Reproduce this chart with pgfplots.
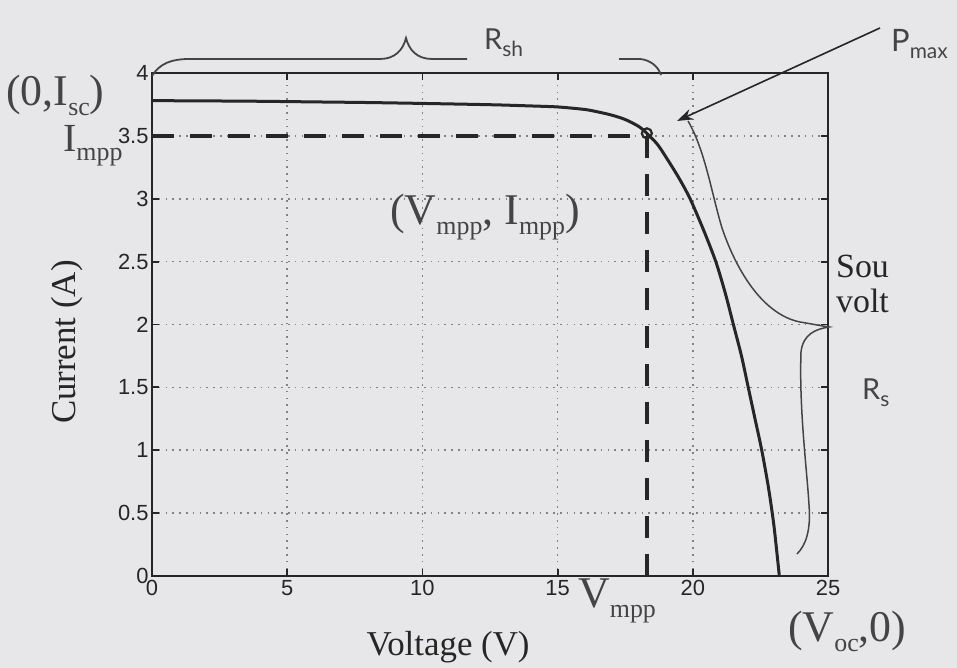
\documentclass[border=0pt]{standalone}
\usepackage{fontspec}
\setmainfont{Liberation Serif}
\newfontfamily\tickfont{Liberation Sans}
\newfontfamily\annot{Lato}
\usepackage{pgfplots}
\pgfplotsset{compat=1.18}
\usetikzlibrary{arrows.meta}

\definecolor{paper}{RGB}{231,231,233}
\definecolor{ink}{RGB}{38,38,38}
\definecolor{gridc}{RGB}{130,130,130}
\definecolor{soft}{RGB}{68,68,68}

% serif label with a lowered subscript
\newcommand{\lbl}[2]{#1\raisebox{-0.22em}{\fontsize{26}{26}\selectfont #2}}
% sans label with a lowered subscript
\newcommand{\slbl}[2]{#1\raisebox{-0.22em}{\fontsize{21}{21}\selectfont #2}}

\begin{document}
\begin{tikzpicture}[x=1bp,y=1bp]
\fill[paper] (0,0) rectangle (957,668);
\useasboundingbox (0,0) rectangle (957,668);

\begin{axis}[
  at={(152bp,92bp)}, anchor=south west,
  scale only axis, width=676bp, height=503bp,
  xmin=0, xmax=25, ymin=0, ymax=4,
  xtick={0,5,...,25}, ytick={0,0.5,...,4},
  tick pos=both, ticklabel pos=left, tick align=inside,
  major tick length=7bp,
  every tick/.style={ink, line width=1.8bp},
  axis line style={ink, line width=2.5bp},
  grid=major,
  major grid style={gridc, line width=1.6bp, dash pattern=on 1.6bp off 5.2bp},
  tick label style={font=\tickfont\fontsize{22}{22}\selectfont, text=ink},
  xticklabel style={yshift=-1bp},
  /pgf/number format/assume math mode=true,
  yticklabel style={/pgf/number format/fixed},
  xlabel={Voltage (V)},
  ylabel={Current (A)},
  xlabel style={font=\fontsize{35}{35}\selectfont, text=ink,
    at={(axis description cs:0.438,-0.158)}, anchor=base},
  ylabel style={font=\fontsize{35}{35}\selectfont, text=ink,
    at={(axis description cs:-0.126,0.465)}, anchor=center},
  clip=false,
]
% I-V characteristic of the module
\addplot[ink, line width=3bp, smooth, tension=0.45] coordinates {
  (0,3.78) (2,3.778) (4,3.775) (6,3.77) (8,3.765) (10,3.758) (12,3.75)
  (13,3.745) (14,3.738) (15,3.73) (16,3.71) (16.5,3.69) (17,3.665)
  (17.5,3.63) (18,3.575) (18.3,3.52) (18.7,3.43) (19.1,3.30) (19.5,3.16)
  (19.9,3.0) (20.4,2.75) (20.85,2.5) (21.2,2.25) (21.5,2.0) (21.8,1.75)
  (22.05,1.5) (22.3,1.25) (22.55,1.0) (22.8,0.7) (23.0,0.4) (23.2,0.0)
};
% maximum power point and its projections
\addplot[ink, line width=3.4bp, dash pattern=on 22bp off 16bp] coordinates {(0,3.5) (18.3,3.5)};
\addplot[ink, line width=3.4bp, dash pattern=on 22bp off 16bp] coordinates {(18.3,0) (18.3,3.5)};
\addplot[only marks, mark=o, mark size=5bp, ink, line width=2.2bp] coordinates {(18.3,3.52)};
\end{axis}

% annotations, in picture pixels measured from the top
\begin{scope}[x=1bp, y=-1bp, shift={(0,668bp)}]
  % shunt resistance brace
  \draw[soft, line width=1.8bp] (152,76) .. controls (160,63) and (172,59) .. (190,59)
    -- (380,59) .. controls (395,59) and (403,50) .. (406,38)
    .. controls (409,50) and (417,59) .. (432,59) -- (467,59);
  \draw[soft, line width=1.8bp] (619,59) -- (640,59) .. controls (650,60) and (658,66) .. (661,75);
  \node[anchor=base west, inner sep=0, text=soft, font=\annot\fontsize{29}{29}\selectfont]
    at (484,50) {\slbl{R}{sh}};

  % maximum power arrow
  \draw[ink, line width=1.6bp, -{Stealth[length=16bp,width=11bp]}] (880,28) -- (677,121);
  \node[anchor=base west, inner sep=0, text=soft, font=\annot\fontsize{31}{31}\selectfont]
    at (891,52) {\slbl{P}{max}};

  % series resistance brace
  \draw[soft, line width=1.5bp] (688,121) .. controls (705,150) and (712,195) .. (722,228)
    .. controls (738,275) and (765,315) .. (800,322)
    .. controls (812,324) and (822,326) .. (829,327)
    .. controls (816,329) and (803,334) .. (801,352)
    .. controls (799,410) and (807,470) .. (809,505)
    .. controls (811,530) and (806,545) .. (797,554);
  \node[anchor=base west, inner sep=0, text=soft, font=\annot\fontsize{29}{29}\selectfont]
    at (862,400) {\slbl{R}{s}};

  % text partly cut at the page edge
  \node[anchor=base west, inner sep=0, text=ink, font=\fontsize{34}{34}\selectfont] at (836,278) {Sou};
  \node[anchor=base west, inner sep=0, text=ink, font=\fontsize{34}{34}\selectfont] at (836,313) {volt};

  % characteristic points
  \node[anchor=base west, inner sep=0, text=soft, font=\fontsize{44}{44}\selectfont]
    at (6,106) {(0,\lbl{I}{sc})};
  \node[anchor=base west, inner sep=0, text=soft, font=\fontsize{40}{40}\selectfont]
    at (63,152) {\lbl{I}{mpp}};
  \node[anchor=base west, inner sep=0, text=soft, font=\fontsize{44}{44}\selectfont]
    at (390,225) {(\lbl{V}{mpp}, \lbl{I}{mpp})};
  \node[anchor=base west, inner sep=0, text=soft, font=\fontsize{44}{44}\selectfont]
    at (578,608) {\lbl{V}{mpp}};
  \node[anchor=base west, inner sep=0, text=soft, font=\fontsize{44}{44}\selectfont]
    at (788,642) {(\lbl{V}{oc},0)};
\end{scope}
\end{tikzpicture}
\end{document}
